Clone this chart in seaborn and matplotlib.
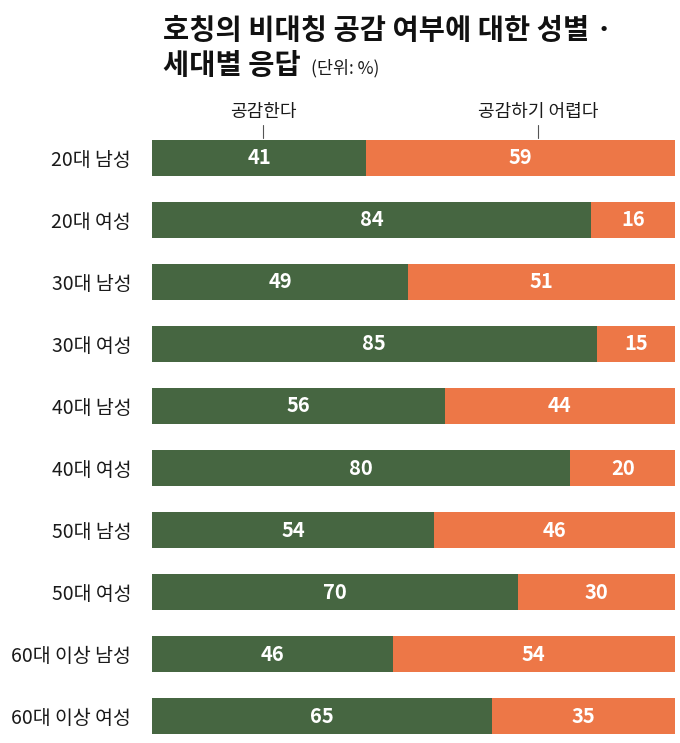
import pandas as pd
import seaborn as sns
from matplotlib import pyplot as plt
from matplotlib import transforms

groups = ['20대 남성', '20대 여성', '30대 남성', '30대 여성', '40대 남성',
          '40대 여성', '50대 남성', '50대 여성', '60대 이상 남성', '60대 이상 여성']
agree = [41, 84, 49, 85, 56, 80, 54, 70, 46, 65]
disagree = [59, 16, 51, 15, 44, 20, 46, 30, 54, 35]
series_names = ['공감한다', '공감하기 어렵다']

green = '#466641'
orange = '#ed7747'

df = pd.DataFrame({'group': groups, 'agree': agree, 'disagree': disagree})
df['total'] = df['agree'] + df['disagree']

sns.set_theme(style='white')
plt.rcParams['font.family'] = ['Noto Sans CJK KR', 'DejaVu Sans']

fig = plt.figure(figsize=(6.8, 7.43), dpi=100)
ax = fig.add_axes([152 / 680, 1 - 734 / 743, 523 / 680, 594 / 743])

sns.barplot(data=df, y='group', x='total', color=orange, width=0.58,
            saturation=1, orient='h', linewidth=0, ax=ax)
sns.barplot(data=df, y='group', x='agree', color=green, width=0.58,
            saturation=1, orient='h', linewidth=0, ax=ax)

for i, (a, d) in enumerate(zip(df['agree'], df['disagree'])):
    ax.text(a / 2, i, str(a), ha='center', va='center', color='white',
            fontsize=14.5, fontweight='bold')
    ax.text(a + d / 2, i, str(d), ha='center', va='center', color='white',
            fontsize=14.5, fontweight='bold')

ax.set_xlim(0, 100)
ax.set_ylim(len(groups) - 1 + 0.29, -0.29)
ax.set(xlabel='', ylabel='', xticks=[])
ax.tick_params(axis='y', length=0, pad=15, labelsize=14)
for lbl in ax.get_yticklabels():
    lbl.set_color('#1a1a1a')
sns.despine(ax=ax, left=True, bottom=True)

# legend labels with small pointer lines
trans = transforms.blended_transform_factory(ax.transData, ax.transAxes)
for xpos, name in zip([21.2, 73.8], series_names):
    ax.plot([xpos, xpos], [1.004, 1.025], color='#555555', lw=0.8,
            transform=trans, clip_on=False)
    ax.text(xpos, 1.047, name, ha='center', va='center', fontsize=13,
            color='#1a1a1a', transform=trans)

fig.text(163 / 680, 1 - 31 / 743, '호칭의 비대칭 공감 여부에 대한 성별 ·',
         fontsize=20.5, fontweight='bold', va='center', color='#111111')
fig.text(163 / 680, 1 - 66 / 743, '세대별 응답',
         fontsize=20.5, fontweight='bold', va='center', color='#111111')
fig.text(311 / 680, 1 - 68 / 743, '(단위: %)',
         fontsize=12.5, va='center', color='#1a1a1a')

plt.savefig('out.png', dpi=100)
